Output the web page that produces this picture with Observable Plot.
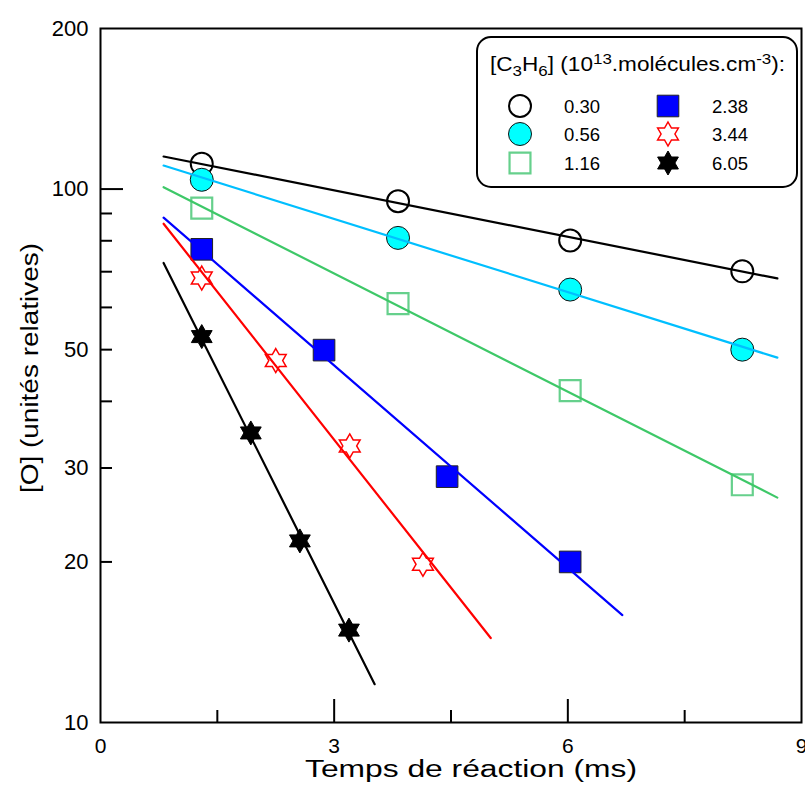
<!DOCTYPE html>
<html><head><meta charset="utf-8">
<script src="https://cdn.jsdelivr.net/npm/d3@7"></script>
<script src="https://cdn.jsdelivr.net/npm/@observablehq/plot@0.6"></script>
<style>
body{margin:0;background:#fff}
#chart{width:805px;height:794px;position:relative}
</style>
</head><body><div id="chart"></div>
<script>
// ---- data ----
const seriesLabels = ["0.30", "0.56", "1.16", "2.38", "3.44", "6.05"];

const time030 = [1.30, 3.82, 6.03, 8.24];
const conc030 = [111.5, 94.9, 80.1, 70.1];
const time056 = [1.30, 3.82, 6.03, 8.24];
const conc056 = [104.1, 81.0, 64.8, 50.0];
const time116 = [1.30, 3.82, 6.03, 8.24];
const conc116 = [92.1, 61.0, 41.9, 27.9];
const time238 = [1.30, 2.87, 4.45, 6.03];
const conc238 = [77.1, 49.9, 28.9, 20.0];
const time344 = [1.30, 2.25, 3.20, 4.14];
const conc344 = [68.1, 47.7, 33.0, 19.8];
const time605 = [1.30, 1.93, 2.56, 3.19];
const conc605 = [52.9, 34.9, 21.9, 14.9];

// fitted lines (end points)
const fitTime030 = [0.81, 8.69]; const fitConc030 = [115.1, 68.0];
const fitTime056 = [0.81, 8.69]; const fitConc056 = [110.7, 48.3];
const fitTime116 = [0.81, 8.69]; const fitConc116 = [100.8, 26.4];
const fitTime238 = [0.81, 6.70]; const fitConc238 = [88.4, 15.9];
const fitTime344 = [0.81, 5.01]; const fitConc344 = [86.1, 14.4];
const fitTime605 = [0.81, 3.52]; const fitConc605 = [72.7, 11.8];

const xTickLabels = [0, 3, 6, 9];
const xMajorTicks = [3, 6];
const xMinorTicks = [1.5, 4.5, 7.5];
const yTickLabels = [10, 20, 30, 50, 100, 200];
const yMajorTicks = [100];
const yMinorTicks = [20, 30, 40, 50, 60, 70, 80, 90];

const xTitle = "Temps de réaction (ms)";
const yTitle = "[O] (unités relatives)";

// ---- styles ----
const hexagram = {
  draw(ctx, size) {
    const R = Math.sqrt(size / Math.PI), r = R / Math.sqrt(3);
    for (let i = 0; i < 12; i++) {
      const a = -Math.PI / 2 + i * Math.PI / 6, rad = i % 2 === 0 ? R : r;
      const px = rad * Math.cos(a), py = rad * Math.sin(a);
      if (i === 0) ctx.moveTo(px, py); else ctx.lineTo(px, py);
    }
    ctx.closePath();
  }
};
const styles = [
  {symbol: "circle", r: 11, fill: "white", stroke: "black", sw: 2, line: "black"},
  {symbol: "circle", r: 11.5, fill: "#00ffff", stroke: "#111", sw: 1, line: "#00bfff"},
  {symbol: "square", r: 11.8, fill: "white", stroke: "#66d08c", sw: 2.2, line: "#3ec868"},
  {symbol: "square", r: 12.2, fill: "#0000ff", stroke: "#222", sw: 1, line: "#0000ff"},
  {symbol: hexagram, r: 12, fill: "white", stroke: "#ff0000", sw: 1.5, line: "#ff0000"},
  {symbol: hexagram, r: 12, fill: "black", stroke: "black", sw: 1, line: "black"}
];

const pts = [[time030, conc030], [time056, conc056], [time116, conc116], [time238, conc238], [time344, conc344], [time605, conc605]];
const fits = [[fitTime030, fitConc030], [fitTime056, fitConc056], [fitTime116, fitConc116], [fitTime238, fitConc238], [fitTime344, fitConc344], [fitTime605, fitConc605]];

const W = 805, H = 794, mL = 100, mR = 4, mT = 28, mB = 72;
const plotW = W - mL - mR, plotH = H - mT - mB;

const dotMarks = pts.map(([t, c], i) => {
  const s = styles[i];
  const data = t.map((v, j) => ({t: v, c: c[j]}));
  return Plot.dot(data, {x: "t", y: "c", symbol: s.symbol, r: s.r, fill: s.fill, stroke: s.stroke, strokeWidth: s.sw});
});
const lineMarks = fits.map(([t, c], i) => {
  const data = t.map((v, j) => ({t: v, c: c[j]}));
  return Plot.line(data, {x: "t", y: "c", stroke: styles[i].line, strokeWidth: 2.2});
});

const chart = Plot.plot({
  width: W, height: H, marginLeft: mL, marginRight: mR, marginTop: mT, marginBottom: mB,
  style: {fontFamily: "'Liberation Sans', Arial, sans-serif", background: "white", color: "black", overflow: "visible"},
  x: {domain: [0, 9]},
  y: {type: "log", domain: [10, 200]},
  marks: [
    Plot.axisX({ticks: xTickLabels, tickSize: 0, tickPadding: 16, fontSize: 21, label: null, tickFormat: d => String(d)}),
    Plot.axisY({ticks: yTickLabels, tickSize: 0, tickPadding: 12, fontSize: 22, label: null, tickFormat: d => String(d)}),
    Plot.tickX(xMajorTicks, {x: d => d, insetTop: plotH - 23, stroke: "black", strokeWidth: 2}),
    Plot.tickX(xMinorTicks, {x: d => d, insetTop: plotH - 12, stroke: "black", strokeWidth: 2}),
    Plot.tickY(yMajorTicks, {y: d => d, insetRight: plotW - 23, stroke: "black", strokeWidth: 2}),
    Plot.tickY(yMinorTicks, {y: d => d, insetRight: plotW - 12, stroke: "black", strokeWidth: 2}),
    ...dotMarks,
    ...lineMarks,
    Plot.frame({stroke: "black", strokeWidth: 2})
  ]
});
document.getElementById("chart").appendChild(chart);

const svg = d3.select(chart);
const ff = "'Liberation Sans', Arial, sans-serif";
svg.append("text").attr("x", 471).attr("y", 777).attr("text-anchor", "middle")
  .attr("font-family", ff).attr("font-size", 23).attr("fill", "black")
  .attr("textLength", 332).attr("lengthAdjust", "spacingAndGlyphs").text(xTitle);
svg.append("text").attr("transform", "translate(38,368) rotate(-90)").attr("text-anchor", "middle")
  .attr("font-family", ff).attr("font-size", 23).attr("fill", "black")
  .attr("textLength", 250).attr("lengthAdjust", "spacingAndGlyphs").text(yTitle);

// ---- legend ----
const lg = svg.append("g").attr("font-family", ff).attr("fill", "black").attr("text-anchor", "start");
lg.append("rect").attr("x", 477).attr("y", 37).attr("width", 320).attr("height", 150)
  .attr("rx", 14).attr("fill", "white").attr("stroke", "black").attr("stroke-width", 2);
const title = lg.append("text").attr("transform", "translate(490,71) scale(1.13,1)")
  .attr("font-size", 20).attr("text-anchor", "start");
title.append("tspan").text("[C");
title.append("tspan").attr("dy", 5).attr("font-size", 15).text("3");
title.append("tspan").attr("dy", -5).text("H");
title.append("tspan").attr("dy", 5).attr("font-size", 15).text("6");
title.append("tspan").attr("dy", -5).text("] (10");
title.append("tspan").attr("dy", -7).attr("font-size", 15).text("13");
title.append("tspan").attr("dy", 7).text(".molécules.cm");
title.append("tspan").attr("dy", -7).attr("font-size", 15).text("-3");
title.append("tspan").attr("dy", 7).text("):");

const rowsY = [106, 134, 163];
seriesLabels.forEach((lab, i) => {
  const col = Math.floor(i / 3), row = i % 3;
  const sx = col === 0 ? 520 : 668, tx = col === 0 ? 564 : 712, cy = rowsY[row];
  const s = styles[i];
  const sym = s.symbol === "circle" ? d3.symbolCircle : s.symbol === "square" ? d3.symbolSquare : s.symbol;
  lg.append("path").attr("transform", `translate(${sx},${cy})`)
    .attr("d", d3.symbol(sym, s.r * s.r * Math.PI)())
    .attr("fill", s.fill).attr("stroke", s.stroke).attr("stroke-width", s.sw);
  lg.append("text").attr("x", tx).attr("y", cy + 6.5).attr("font-size", 18.5).attr("text-anchor", "start").text(lab);
});
</script>
</body></html>
